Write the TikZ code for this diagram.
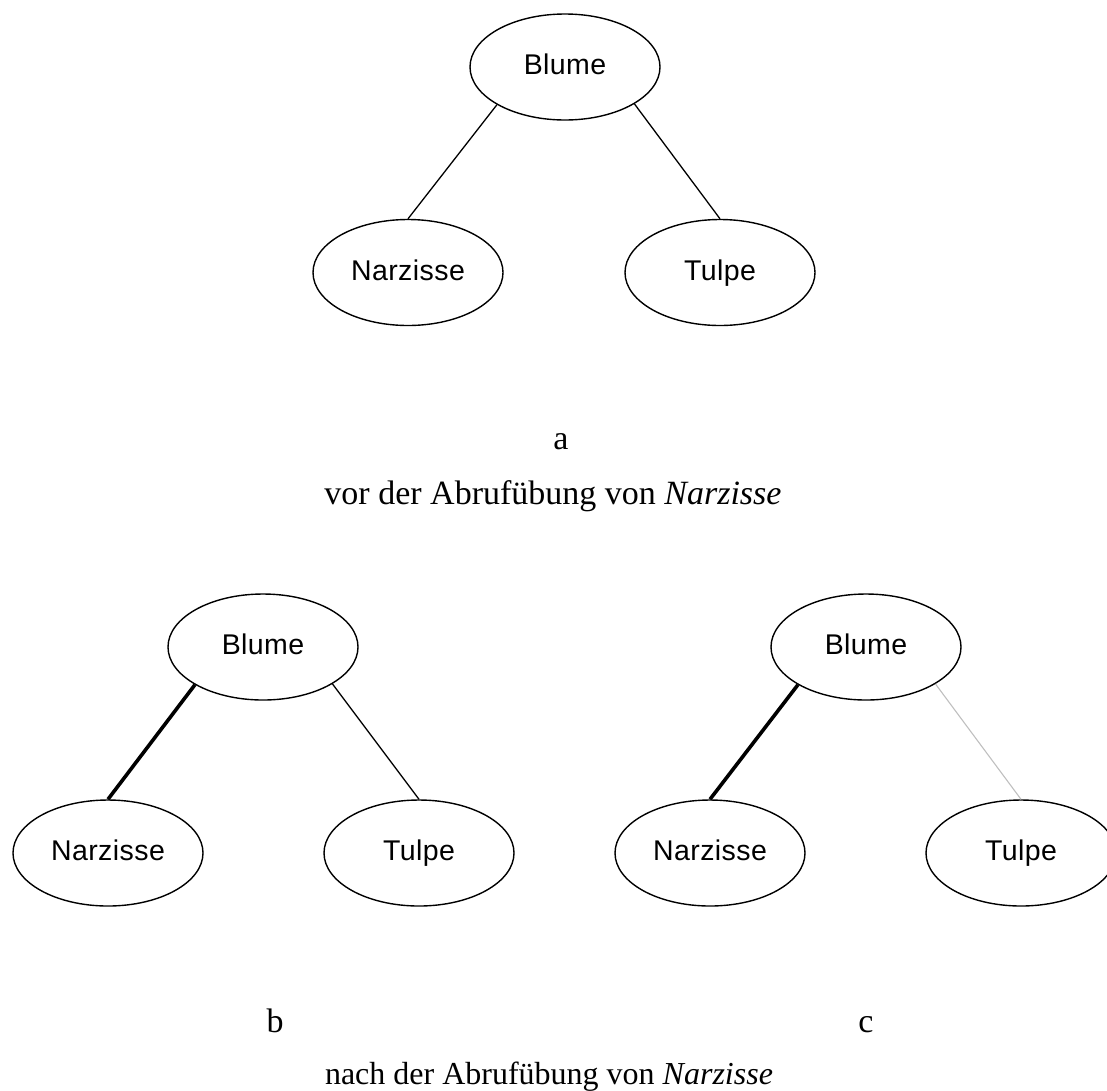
\documentclass[tikz,border=0pt]{standalone}
\usepackage{fontspec}
\setmainfont{Liberation Serif}
\newfontfamily\nodefont{Liberation Sans}[LetterSpace=1.5]
\usetikzlibrary{shapes.geometric}
\tikzset{
  concept/.style={draw, ellipse, line width=1.4pt, minimum width=190pt, minimum height=106pt, inner sep=0pt,
    font=\nodefont\fontsize{28.5}{32}\selectfont, text height=15.5pt, text depth=0pt},
  link/.style={line width=1.3pt},
  strong/.style={line width=3.6pt},
  weak/.style={line width=1.1pt, color=black!25},
  caption/.style={anchor=base, font=\fontsize{34}{40}\selectfont, inner sep=0pt},
  captionsmall/.style={caption, font=\fontsize{32}{38}\selectfont}
}
\begin{document}
\begin{tikzpicture}[x=1pt,y=-1pt]
\useasboundingbox (0,0) rectangle (1107,1090);
% a
\node[concept] (b1) at (565,67) {Blume};
\node[concept] (n1) at (408,272.5) {Narzisse};
\node[concept] (t1) at (720,272.5) {Tulpe};
\draw[link] (b1.-151.4) -- (n1.north);
\draw[link] (b1.-28.6) -- (t1.north);
\node[caption] (la) at (561,449) {a};
\node[caption] (ca) at (553,504.5) {vor der Abrufübung von \textit{Narzisse}};
% b
\node[concept] (b2) at (263,647) {Blume};
\node[concept] (n2) at (108,853) {Narzisse};
\node[concept] (t2) at (419,853) {Tulpe};
\draw[strong] (b2.-151.4) -- (n2.north);
\draw[link] (b2.-28.6) -- (t2.north);
\node[caption] (lb) at (275,1032) {b};
% c
\node[concept] (b3) at (866,647) {Blume};
\node[concept] (n3) at (710,853) {Narzisse};
\node[concept] (t3) at (1021,853) {Tulpe};
\draw[strong] (b3.-151.4) -- (n3.north);
\draw[weak] (b3.-28.6) -- (t3.north);
\node[caption] (lc) at (866,1032) {c};
\node[captionsmall] (cb) at (549,1084) {nach der Abrufübung von \textit{Narzisse}};
\end{tikzpicture}
\end{document}
